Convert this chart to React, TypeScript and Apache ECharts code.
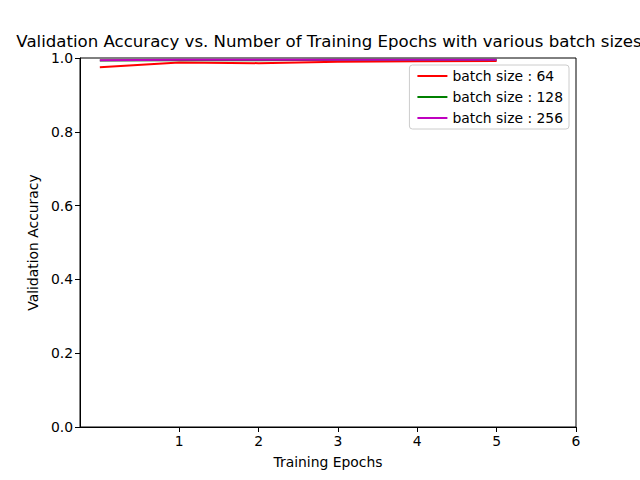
import React, { useEffect, useRef } from "react";
import * as echarts from "echarts";

const epochs = [0, 1, 2, 3, 4, 5];
const acc64 = [0.975, 0.988, 0.986, 0.99, 0.991, 0.992];
const acc128 = [0.993, 0.994, 0.994, 0.995, 0.995, 0.995];
const acc256 = [0.994, 0.995, 0.995, 0.995, 0.995, 0.995];
const xTicks = [1, 2, 3, 4, 5, 6];
const seriesNames = ["batch size : 64", "batch size : 128", "batch size : 256"];
const colors = ["#ff0000", "#008000", "#bf00bf"];

const FONT = "DejaVu Sans";

export default function App() {
  const ref = useRef<HTMLDivElement>(null);
  useEffect(() => {
    if (!ref.current) return;
    const chart = echarts.init(ref.current, null, { renderer: "svg" });
    const datasets = [acc64, acc128, acc256];
    chart.setOption({
      animation: false,
      backgroundColor: "#fff",
      textStyle: { fontFamily: FONT },
      title: {
        text: "Validation Accuracy vs. Number of Training Epochs with various batch sizes",
        left: 329,
        textAlign: "center",
        top: 33,
        padding: 0,
        textStyle: { fontFamily: FONT, fontSize: 16.6, fontWeight: "normal", color: "#000" },
      },
      grid: {
        left: 80,
        top: 58,
        right: 64,
        bottom: 53,
        show: true,
        borderColor: "#000",
        borderWidth: 1,
        backgroundColor: "transparent",
      },
      legend: {
        orient: "vertical",
        right: 71,
        top: 65,
        data: seriesNames,
        itemWidth: 30,
        itemHeight: 14,
        itemGap: 7,
        padding: [4, 6, 4, 7],
        borderColor: "#cccccc",
        borderWidth: 1,
        borderRadius: 3,
        backgroundColor: "rgba(255,255,255,0.8)",
        itemStyle: { opacity: 0 },
        textStyle: { fontFamily: FONT, fontSize: 13.9, color: "#000" },
      },
      xAxis: {
        type: "value",
        min: -0.25,
        max: 6,
        name: "Training Epochs",
        nameLocation: "middle",
        nameGap: 28,
        nameTextStyle: { fontFamily: FONT, fontSize: 13.9, color: "#000" },
        splitLine: { show: false },
        axisLine: { show: true, onZero: false, lineStyle: { color: "#000", width: 1 } },
        axisTick: { show: true, customValues: xTicks, length: 5, lineStyle: { color: "#000" } },
        axisLabel: {
          customValues: xTicks,
          fontFamily: FONT,
          fontSize: 13.9,
          color: "#000",
          margin: 7,
          formatter: (v: number) => String(Math.round(v)),
        },
      },
      yAxis: {
        type: "value",
        min: 0,
        max: 1,
        interval: 0.2,
        name: "Validation Accuracy",
        nameLocation: "middle",
        nameGap: 40,
        nameTextStyle: { fontFamily: FONT, fontSize: 13.9, color: "#000" },
        splitLine: { show: false },
        axisLine: { show: true, onZero: false, lineStyle: { color: "#000", width: 1 } },
        axisTick: { show: true, length: 5, lineStyle: { color: "#000" } },
        axisLabel: {
          fontFamily: FONT,
          fontSize: 13.9,
          color: "#000",
          margin: 7,
          formatter: (v: number) => v.toFixed(1),
        },
      },
      series: seriesNames.map((name, i) => ({
        name,
        type: "line",
        data: epochs.map((e, j) => [e, datasets[i][j]]),
        symbol: "none",
        showSymbol: false,
        clip: false,
        lineStyle: { color: colors[i], width: 2 },
        itemStyle: { color: colors[i] },
      })),
    });
    return () => chart.dispose();
  }, []);
  return (
    <div
      ref={ref}
      style={{ position: "fixed", left: 0, top: 0, width: 640, height: 480 }}
    />
  );
}
